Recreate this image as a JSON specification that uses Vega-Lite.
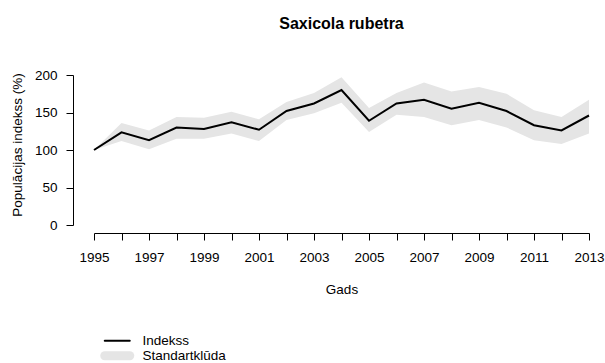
{
  "$schema": "https://vega.github.io/schema/vega-lite/v6.json",
  "width": 495,
  "height": 150,
  "autosize": {"type": "none"},
  "padding": {"left": 94, "top": 75, "right": 16, "bottom": 138},
  "background": "white",
  "config": {
    "view": {"stroke": null},
    "font": "Liberation Sans",
    "axis": {
      "grid": false,
      "domainColor": "#000000",
      "tickColor": "#000000",
      "labelColor": "#000000",
      "titleColor": "#000000",
      "labelFontSize": 13.5,
      "titleFontSize": 13.5,
      "titleFontWeight": "normal",
      "labelFont": "Liberation Sans",
      "titleFont": "Liberation Sans",
      "domainWidth": 1,
      "tickWidth": 1,
      "labelFlush": false,
      "labelOverlap": false
    }
  },
  "title": {
    "text": "Saxicola rubetra",
    "fontSize": 16,
    "fontWeight": "bold",
    "font": "Liberation Sans",
    "anchor": "middle",
    "frame": "group",
    "baseline": "alphabetic",
    "offset": 23,
    "color": "#000000"
  },
  "data": {
    "values": [
      {"year": 1995, "idx": 100, "lo": 100, "hi": 100},
      {"year": 1996, "idx": 123.5, "lo": 112, "hi": 136},
      {"year": 1997, "idx": 113, "lo": 101, "hi": 126},
      {"year": 1998, "idx": 130, "lo": 115, "hi": 144},
      {"year": 1999, "idx": 128, "lo": 115, "hi": 143},
      {"year": 2000, "idx": 137, "lo": 122, "hi": 151},
      {"year": 2001, "idx": 127, "lo": 112, "hi": 141},
      {"year": 2002, "idx": 152, "lo": 140, "hi": 164},
      {"year": 2003, "idx": 162, "lo": 149, "hi": 176},
      {"year": 2004, "idx": 180, "lo": 163, "hi": 197},
      {"year": 2005, "idx": 139, "lo": 124, "hi": 156},
      {"year": 2006, "idx": 162, "lo": 147, "hi": 176},
      {"year": 2007, "idx": 167, "lo": 144, "hi": 190},
      {"year": 2008, "idx": 155, "lo": 133, "hi": 178},
      {"year": 2009, "idx": 163, "lo": 140, "hi": 184},
      {"year": 2010, "idx": 152, "lo": 130, "hi": 175},
      {"year": 2011, "idx": 133, "lo": 113, "hi": 153},
      {"year": 2012, "idx": 126, "lo": 108, "hi": 144},
      {"year": 2013, "idx": 146, "lo": 122, "hi": 167}
    ]
  },
  "encoding": {
    "x": {
      "field": "year",
      "type": "quantitative",
      "scale": {"domain": [1995, 2013], "nice": false, "zero": false},
      "axis": {
        "values": [1995, 1996, 1997, 1998, 1999, 2000, 2001, 2002, 2003, 2004, 2005, 2006, 2007, 2008, 2009, 2010, 2011, 2012, 2013],
        "labelExpr": "datum.value % 2 == 1 ? datum.label : ''",
        "format": "d",
        "title": "Gads",
        "offset": 8,
        "tickSize": 7,
        "labelPadding": 21.7,
        "labelBaseline": "alphabetic",
        "labelOverlap": false,
        "titleY": 60,
        "titleBaseline": "alphabetic"
      }
    }
  },
  "layer": [
    {
      "mark": {"type": "area", "color": "#e5e5e5", "opacity": 1},
      "encoding": {
        "y": {
          "field": "lo",
          "type": "quantitative",
          "scale": {"domain": [0, 200], "nice": false},
          "axis": {
            "values": [0, 50, 100, 150, 200],
            "title": "Populācijas indekss (%)",
            "offset": 21,
            "tickSize": 7,
            "labelPadding": 9,
            "labelOverlap": false,
            "titleX": -51.7,
            "titleY": 69.5,
            "titleAngle": 270,
            "titleBaseline": "alphabetic"
          }
        },
        "y2": {"field": "hi"}
      }
    },
    {
      "mark": {"type": "line", "strokeWidth": 2},
      "encoding": {
        "y": {
          "field": "idx",
          "type": "quantitative",
          "scale": {"domain": [0, 200], "nice": false},
          "axis": {
            "values": [0, 50, 100, 150, 200],
            "title": "Populācijas indekss (%)",
            "offset": 21,
            "tickSize": 7,
            "labelPadding": 9,
            "labelOverlap": false,
            "titleX": -51.7,
            "titleY": 69.5,
            "titleAngle": 270,
            "titleBaseline": "alphabetic"
          }
        },
        "color": {
          "datum": "Indekss",
          "type": "nominal",
          "scale": {"domain": ["Indekss", "Standartklūda"], "range": ["#000000", "#e5e5e5"]},
          "legend": {
            "title": null,
            "values": ["Indekss", "Standartklūda"],
            "orient": "none",
            "legendX": 16.5,
            "legendY": 259,
            "symbolType": "M-2.5,0H2.5",
            "symbolSize": 100,
            "symbolStrokeWidth": 2,
            "labelFontSize": 13.5,
            "labelFont": "Liberation Sans",
            "labelColor": "#000000",
            "labelOffset": 18.5,
            "rowPadding": -11,
            "padding": 0,
            "encode": {
              "symbols": {
                "update": {
                  "strokeWidth": {"signal": "datum.value === 'Standartklūda' ? 9 : 2"},
                  "strokeCap": {"value": "round"},
                  "fill": {"value": "transparent"}
                }
              }
            }
          }
        }
      }
    }
  ]
}
